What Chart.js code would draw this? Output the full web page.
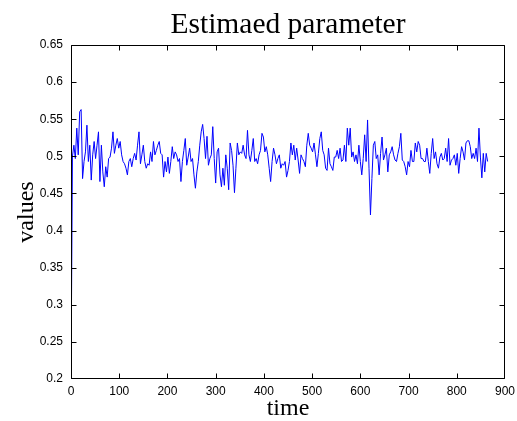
<!DOCTYPE html>
<html>
<head>
<meta charset="utf-8">
<script src="https://cdn.jsdelivr.net/npm/chart.js@4/dist/chart.umd.min.js"></script>
<style>
  html, body { margin: 0; padding: 0; background: #ffffff; }
  #c { display: block; }
</style>
</head>
<body>
<canvas id="c" width="517" height="421"></canvas>
<script>
// ---- data ----
const chartTitle = "Estimaed parameter";
const xAxisLabel = "time";
const yAxisLabel = "values";

const xTicks = [0, 100, 200, 300, 400, 500, 600, 700, 800, 900];
const yTicks = [0.2, 0.25, 0.3, 0.35, 0.4, 0.45, 0.5, 0.55, 0.6, 0.65];

const times = [
  0,3,6,9,12,15,18,21,24,27,30,33,36,39,42,45,48,51,54,57,
  60,63,66,69,72,75,78,81,84,87,90,93,96,99,102,105,108,111,114,117,
  120,123,126,129,132,135,138,141,144,147,150,153,156,159,162,165,168,171,174,177,
  180,183,186,189,192,195,198,201,204,207,210,213,216,219,222,225,228,231,234,237,
  240,243,246,249,252,255,258,261,264,267,270,273,276,279,282,285,288,291,294,297,
  300,303,306,309,312,315,318,321,324,327,330,333,336,339,342,345,348,351,354,357,
  360,363,366,369,372,375,378,381,384,387,390,393,396,399,402,405,408,411,414,417,
  420,423,426,429,432,435,438,441,444,447,450,453,456,459,462,465,468,471,474,477,
  480,483,486,489,492,495,498,501,504,507,510,513,516,519,522,525,528,531,534,537,
  540,543,546,549,552,555,558,561,564,567,570,573,576,579,582,585,588,591,594,597,
  600,603,606,609,612,615,618,621,624,627,630,633,636,639,642,645,648,651,654,657,
  660,663,666,669,672,675,678,681,684,687,690,693,696,699,702,705,708,711,714,717,
  720,723,726,729,732,735,738,741,744,747,750,753,756,759,762,765,768,771,774,777,
  780,783,786,789,792,795,798,801,804,807,810,813,816,819,822,825,828,831,834,837,
  840,843,846,849,852,855,858,861,864
];

const values = [
  0.200,0.500,0.515,0.497,0.538,0.502,0.560,0.563,0.470,0.493,
  0.506,0.542,0.493,0.515,0.468,0.502,0.520,0.497,0.515,0.533,
  0.466,0.515,0.479,0.459,0.486,0.472,0.497,0.499,0.511,0.533,
  0.504,0.515,0.524,0.511,0.520,0.502,0.493,0.490,0.484,0.475,
  0.493,0.497,0.486,0.497,0.504,0.495,0.515,0.533,
  0.490,0.502,0.515,0.493,0.484,0.490,0.488,0.506,0.493,0.520,
  0.502,0.508,0.515,0.520,0.504,0.502,0.472,0.493,0.479,0.499,
  0.477,0.493,0.513,0.497,0.506,0.502,0.493,0.497,0.466,0.493,
  0.508,0.524,0.488,0.499,0.511,0.493,0.497,0.475,0.457,0.479,
  0.493,0.515,0.533,0.543,0.524,0.497,0.527,0.488,
  0.497,0.502,0.540,0.497,0.464,0.506,0.511,0.475,0.459,0.484,
  0.461,0.502,0.484,0.455,0.518,0.508,0.488,0.451,0.484,0.518,
  0.502,0.506,0.504,0.515,0.502,0.497,0.535,0.502,0.493,0.508,
  0.524,0.493,0.497,0.490,0.502,0.508,0.531,0.526,0.506,0.513,
  0.502,0.484,0.466,0.493,0.511,0.502,0.490,0.497,
  0.502,0.484,0.490,0.488,0.493,0.472,0.481,0.493,0.518,0.502,
  0.515,0.495,0.511,0.495,0.477,0.502,0.497,0.493,0.486,0.515,
  0.531,0.515,0.511,0.506,0.518,0.502,0.486,0.504,0.524,0.533,
  0.508,0.502,0.484,0.481,0.511,0.490,0.486,0.481,0.499,0.499,
  0.508,0.497,0.511,0.493,0.495,0.515,0.493,0.538,
  0.515,0.538,0.499,0.506,0.493,0.502,0.490,0.515,0.493,0.475,
  0.497,0.529,0.493,0.549,0.484,0.421,0.470,0.515,0.520,0.497,
  0.502,0.475,0.504,0.526,0.495,0.502,0.511,0.479,0.502,0.506,
  0.513,0.502,0.495,0.493,0.504,0.513,0.531,0.495,0.493,0.486,
  0.475,0.493,0.486,0.508,0.493,0.493,0.518,0.506,0.520,
  0.515,0.497,0.497,0.493,0.493,0.511,0.493,0.477,0.504,0.524,
  0.497,0.506,0.490,0.484,0.499,0.504,0.495,0.497,0.511,0.493,
  0.524,0.488,0.495,0.497,0.502,0.488,0.504,0.477,0.497,0.513,
  0.506,0.495,0.518,0.521,0.521,0.513,0.497,0.504,0.497,0.511,
  0.493,0.538,0.499,0.471,0.504,0.479,0.504,0.493
];

// ---- styling / layout ----
const tickFont = { family: "'Liberation Sans', Arial, sans-serif", size: 12 };
const serif = "'Liberation Serif', 'Times New Roman', serif";

const matlabBox = {
  id: 'matlabBox',
  afterDraw(chart) {
    const { ctx, chartArea: a, scales } = chart;
    const L = Math.round(a.left) + 0.5, R = Math.round(a.right) - 0.5;
    const T = Math.round(a.top) + 0.5, B = Math.round(a.bottom) - 0.5;
    const len = 5;
    const clamp = (v, lo, hi) => Math.min(hi, Math.max(lo, v));
    ctx.save();
    ctx.strokeStyle = '#000000';
    ctx.lineWidth = 1;
    ctx.beginPath();
    ctx.rect(L, T, R - L, B - T);
    xTicks.forEach(v => {
      const px = clamp(Math.round(scales.x.getPixelForValue(v)) + 0.5, L, R);
      ctx.moveTo(px, B); ctx.lineTo(px, B - len);
      ctx.moveTo(px, T); ctx.lineTo(px, T + len);
    });
    yTicks.forEach(v => {
      const py = clamp(Math.round(scales.y.getPixelForValue(v)) + 0.5, T, B);
      ctx.moveTo(L, py); ctx.lineTo(L + len, py);
      ctx.moveTo(R, py); ctx.lineTo(R - len, py);
    });
    ctx.stroke();
    // title centred over the plot box, as MATLAB does
    ctx.fillStyle = '#000000';
    ctx.font = "29.5px " + serif;
    ctx.textAlign = 'center';
    ctx.textBaseline = 'alphabetic';
    ctx.fillText(chartTitle, (a.left + a.right) / 2, 33);
    ctx.restore();
  }
};

new Chart(document.getElementById('c'), {
  type: 'line',
  data: {
    datasets: [{
      label: yAxisLabel,
      data: times.map((t, i) => ({ x: t, y: values[i] })),
      borderColor: '#0000ff',
      borderWidth: 1,
      pointRadius: 0,
      tension: 0,
      fill: false
    }]
  },
  options: {
    responsive: false,
    animation: false,
    devicePixelRatio: 1,
    layout: { padding: { left: 0, right: 12, top: 45, bottom: 0 } },
    plugins: {
      legend: { display: false },
      tooltip: { enabled: false },
      title: { display: false }
    },
    scales: {
      x: {
        type: 'linear',
        min: 0, max: 900,
        afterBuildTicks: s => { s.ticks = xTicks.map(v => ({ value: v })); },
        afterFit: s => { s.height = 42; s.paddingRight = 0; s.paddingLeft = 0; },
        ticks: { color: '#000000', font: tickFont, padding: 5, maxRotation: 0, autoSkip: false },
        grid: { display: false, drawTicks: false },
        border: { display: false },
        title: {
          display: true, text: xAxisLabel, color: '#000000',
          font: { family: serif, size: 24, lineHeight: 1 },
          padding: { top: 0, bottom: 0 }
        }
      },
      y: {
        type: 'linear',
        min: 0.2, max: 0.65,
        afterBuildTicks: s => { s.ticks = yTicks.map(v => ({ value: v })); },
        afterFit: s => { s.width = 71; s.paddingTop = 0; s.paddingBottom = 0; },
        ticks: {
          color: '#000000', font: tickFont, padding: 8, autoSkip: false,
          callback: v => String(Math.round(v * 100) / 100)
        },
        grid: { display: false, drawTicks: false },
        border: { display: false },
        title: {
          display: true, text: yAxisLabel, color: '#000000',
          font: { family: serif, size: 24, lineHeight: 1 },
          padding: { top: 15, bottom: 0 }
        }
      }
    }
  },
  plugins: [matlabBox]
});
</script>
</body>
</html>
